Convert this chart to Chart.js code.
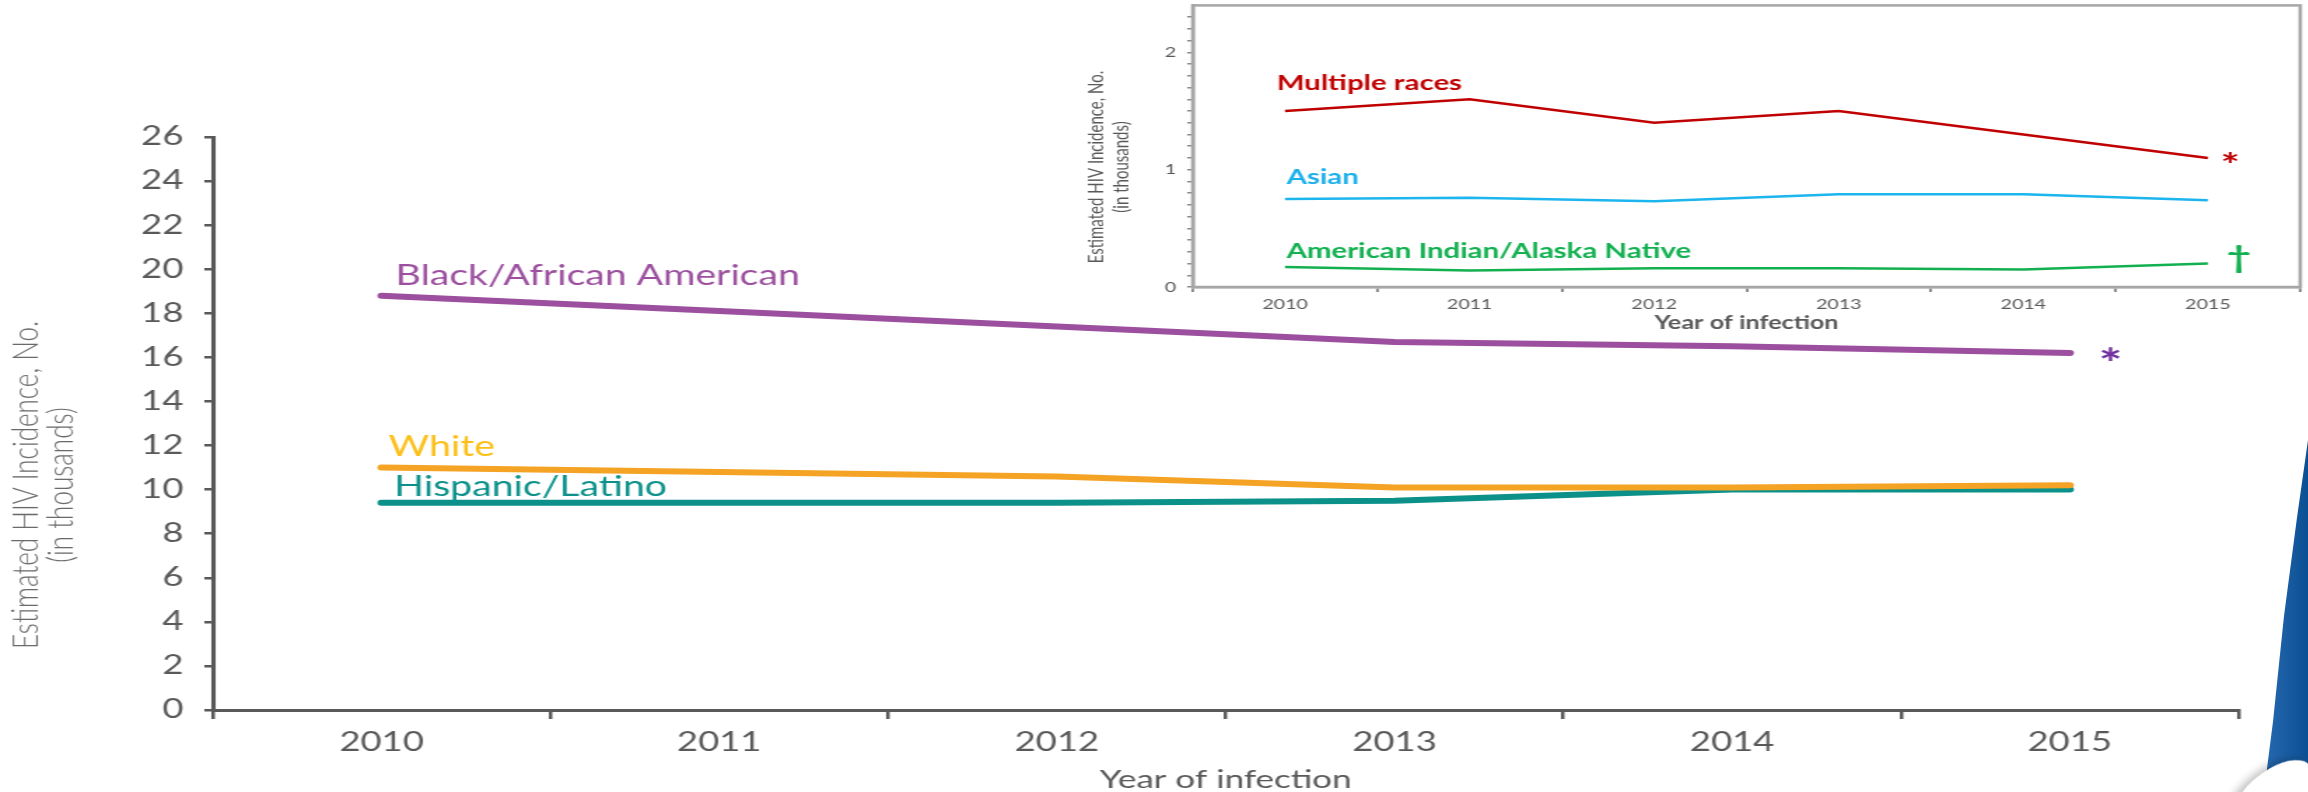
<!DOCTYPE html>
<html>
<head>
<meta charset="utf-8">
<script src="https://cdn.jsdelivr.net/npm/chart.js@4.4.1/dist/chart.umd.min.js"></script>
<style>
  html, body { margin: 0; padding: 0; background: #fff; }
  #page { position: relative; width: 2308px; height: 792px; overflow: hidden; background: #fff; }
  /* the source slide is stretched sideways, so draw narrow and stretch */
  #stretch { position: absolute; left: 0; top: 0; width: 1649px; height: 792px; transform: scaleX(1.4); transform-origin: 0 0; }
  #main { position: absolute; left: 0; top: 0; }
  #inset { position: absolute; left: 740px; top: -11px; }
  #blue { position: absolute; left: 2258px; top: 440px; width: 50px; height: 352px;
          background: linear-gradient(to right, #2a6db5, #0b4f93);
          clip-path: polygon(100% 0, 100% 100%, 12% 100%, 30% 80%, 52% 50%, 78% 22%); }
  #curl { position: absolute; left: 2228px; top: 770px; width: 90px; height: 44px; background: #fff;
          border-radius: 60% 40% 0 0; transform: rotate(-30deg);
          box-shadow: -4px -3px 8px rgba(0,0,0,0.25); }
</style>
</head>
<body>
<div id="page">
  <div id="stretch">
    <canvas id="main" width="1649" height="792"></canvas>
    <canvas id="inset" width="909" height="351"></canvas>
  </div>
  <div id="blue"></div>
  <div id="curl"></div>
</div>
<script>
// years on the x axis (both charts)
const years = ['2010', '2011', '2012', '2013', '2014', '2015'];

// main chart, thousands of new infections
const blackValues = [18.8, 18.1, 17.4, 16.7, 16.5, 16.2];
const whiteValues = [11.0, 10.8, 10.6, 10.1, 10.1, 10.2];
const hispanicValues = [9.4, 9.4, 9.4, 9.5, 10.0, 10.0];

// inset chart, smaller groups
const multipleValues = [1.5, 1.6, 1.4, 1.5, 1.3, 1.1];
const asianValues = [0.75, 0.76, 0.73, 0.79, 0.79, 0.74];
const aianValues = [0.17, 0.14, 0.16, 0.16, 0.15, 0.20];

const insetTickLabels = ['0', '1', '2'];

const FONT = 'Lato, "Open Sans", sans-serif';
const AXIS_GREY = '#595959';

// writes the series name next to the first point and a note mark after the last one
const lineLabels = {
  id: 'lineLabels',
  afterDatasetsDraw(chart) {
    const ctx = chart.ctx;
    chart.data.datasets.forEach((ds, i) => {
      const pts = chart.getDatasetMeta(i).data;
      ctx.save();
      ctx.fillStyle = ds.labelColor;
      ctx.font = ds.labelFont;
      ctx.textBaseline = 'alphabetic';
      ctx.textAlign = 'left';
      ctx.fillText(ds.label, pts[0].x + ds.labelDx, pts[0].y + ds.labelDy);
      if (ds.mark) {
        const last = pts[pts.length - 1];
        ctx.fillStyle = ds.markColor;
        ctx.font = ds.markFont;
        ctx.textAlign = 'center';
        ctx.textBaseline = 'middle';
        ctx.fillText(ds.mark, last.x + ds.markDx, last.y + ds.markDy);
      }
      ctx.restore();
    });
  }
};

// two line, rotated y axis title
function yTitle(lines, x1, x2, cy, font, color) {
  return {
    id: 'yTitle',
    afterDraw(chart) {
      const ctx = chart.ctx;
      ctx.save();
      ctx.fillStyle = color;
      ctx.font = font;
      ctx.textAlign = 'center';
      ctx.textBaseline = 'middle';
      [x1, x2].forEach((x, i) => {
        ctx.save();
        ctx.translate(x, cy);
        ctx.rotate(-Math.PI / 2);
        ctx.fillText(lines[i], 0, 0);
        ctx.restore();
      });
      ctx.restore();
    }
  };
}

const insetBox = {
  id: 'insetBox',
  afterDraw(chart) {
    const a = chart.chartArea;
    const ctx = chart.ctx;
    ctx.save();
    ctx.strokeStyle = '#a6a6a6';
    ctx.lineWidth = 2.5;
    ctx.strokeRect(a.left, a.top, a.right - a.left, a.bottom - a.top);
    ctx.restore();
  }
};

new Chart(document.getElementById('main'), {
  type: 'line',
  data: {
    labels: years,
    datasets: [
      {
        label: 'Black/African American', data: blackValues,
        borderColor: '#9b4f9e', borderWidth: 6,
        labelColor: '#9b4f9e', labelFont: '28px ' + FONT, labelDx: 10, labelDy: -11,
        mark: '*', markColor: '#7030a0', markFont: 'bold 40px ' + FONT, markDx: 29, markDy: 12
      },
      {
        label: 'White', data: whiteValues,
        borderColor: '#f4a324', borderWidth: 6,
        labelColor: '#fbbf16', labelFont: '28px ' + FONT, labelDx: 5, labelDy: -12
      },
      {
        label: 'Hispanic/Latino', data: hispanicValues,
        borderColor: '#0b918a', borderWidth: 6,
        labelColor: '#0b918a', labelFont: '28px ' + FONT, labelDx: 9, labelDy: -7
      }
    ]
  },
  options: {
    responsive: false,
    animation: false,
    devicePixelRatio: 1,
    layout: { padding: { left: 0, top: 137, right: 50, bottom: 0 } },
    elements: { point: { radius: 0 }, line: { tension: 0, borderCapStyle: 'round' } },
    plugins: { legend: { display: false }, tooltip: { enabled: false } },
    scales: {
      x: {
        offset: true,
        grid: { offset: true, drawOnChartArea: false, color: AXIS_GREY, lineWidth: 2.5, tickLength: 9 },
        border: { color: AXIS_GREY, width: 3 },
        ticks: { color: AXIS_GREY, font: { family: FONT, size: 26 }, padding: 8 },
        title: { display: true, text: 'Year of infection', color: AXIS_GREY,
                 font: { family: FONT, size: 25, lineHeight: 1 }, padding: { top: 0, bottom: 0 } },
        afterFit(scale) { scale.height = 82; }
      },
      y: {
        min: 0, max: 26,
        grid: { drawOnChartArea: false, color: AXIS_GREY, lineWidth: 2.5, tickLength: 6 },
        border: { color: AXIS_GREY, width: 3 },
        ticks: { stepSize: 2, color: AXIS_GREY, font: { family: FONT, size: 26 }, padding: 15 },
        afterFit(scale) { scale.width = 152; }
      }
    }
  },
  plugins: [lineLabels, yTitle(['Estimated HIV Incidence, No.', '(in thousands)'], 19, 44, 485,
                               '300 26px ' + FONT, '#6a6a6a')]
});

new Chart(document.getElementById('inset'), {
  type: 'line',
  data: {
    labels: years,
    datasets: [
      {
        label: 'Multiple races', data: multipleValues,
        borderColor: '#c00000', borderWidth: 2.5,
        labelColor: '#c00000', labelFont: 'bold 21px ' + FONT, labelDx: -6, labelDy: -21,
        mark: '*', markColor: '#c00000', markFont: 'bold 32px ' + FONT, markDx: 16, markDy: 9
      },
      {
        label: 'Asian', data: asianValues,
        borderColor: '#1cb5ee', borderWidth: 2.5,
        labelColor: '#1cb0ea', labelFont: 'bold 21px ' + FONT, labelDx: 1, labelDy: -15
      },
      {
        label: 'American Indian/Alaska Native', data: aianValues,
        borderColor: '#12b050', borderWidth: 2.5,
        labelColor: '#12b050', labelFont: 'bold 21px ' + FONT, labelDx: 1, labelDy: -9,
        mark: '\u2020', markColor: '#12b050', markFont: 'bold 30px ' + FONT, markDx: 22, markDy: -5
      }
    ]
  },
  options: {
    responsive: false,
    animation: false,
    devicePixelRatio: 1,
    layout: { padding: { left: 0, top: 6, right: 6, bottom: 0 } },
    elements: { point: { radius: 0 }, line: { tension: 0 } },
    plugins: { legend: { display: false }, tooltip: { enabled: false } },
    scales: {
      x: {
        offset: true,
        grid: { offset: true, drawOnChartArea: false, color: '#8c8c8c', lineWidth: 2, tickLength: 5 },
        border: { color: '#a6a6a6', width: 2.5 },
        ticks: { color: AXIS_GREY, font: { family: FONT, size: 14 }, padding: 4 },
        title: { display: true, text: 'Year of infection', color: AXIS_GREY,
                 font: { family: FONT, size: 18, weight: 'bold' }, padding: { top: 0, bottom: 6 } },
        afterFit(scale) { scale.height = 53; }
      },
      y: {
        min: 0, max: 2.4,
        grid: { drawOnChartArea: false, color: '#8c8c8c', lineWidth: 1.5, tickLength: 4 },
        border: { color: '#a6a6a6', width: 2.5 },
        ticks: {
          stepSize: 0.1, autoSkip: false, color: AXIS_GREY, font: { family: FONT, size: 14 }, padding: 8,
          callback(v) {
            if (v > 2.35) return null;
            const r = Math.round(v);
            return Math.abs(v - r) < 1e-6 ? insetTickLabels[r] : '';
          }
        },
        afterFit(scale) { scale.width = 112; }
      }
    }
  },
  plugins: [lineLabels, insetBox, yTitle(['Estimated HIV Incidence, No.', '(in thousands)'], 43, 61, 178,
                                          '15px ' + FONT, AXIS_GREY)]
});
</script>
</body>
</html>
